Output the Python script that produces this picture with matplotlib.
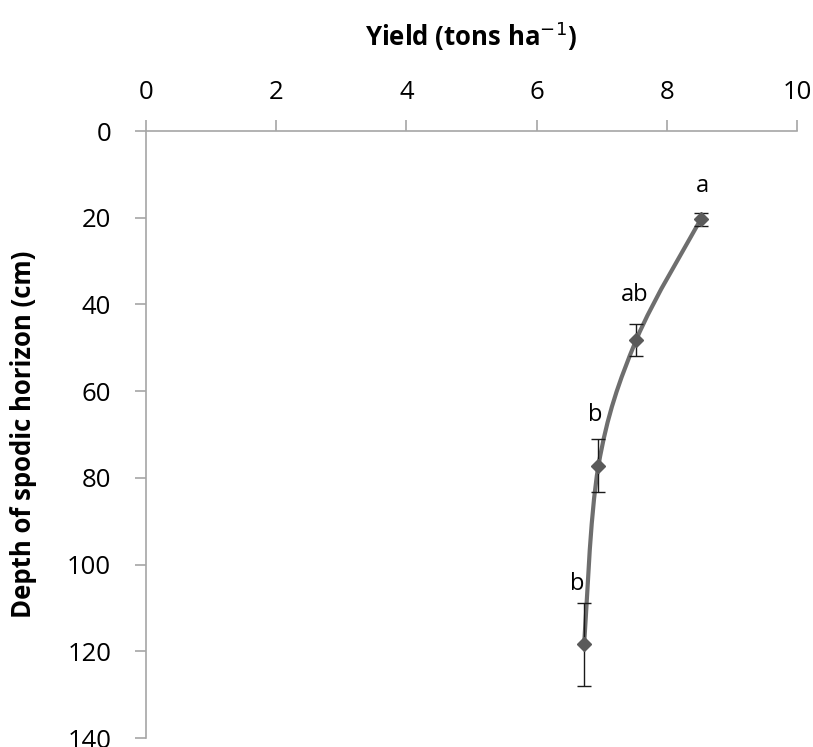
import matplotlib

matplotlib.use("Agg")

import matplotlib.pyplot as plt
import numpy as np
from matplotlib.path import Path
from matplotlib.patches import PathPatch

# values
yield_t = [8.52, 7.53, 6.95, 6.73]
depth_cm = [20.4, 48.2, 77.2, 118.4]
depth_err = [1.55, 3.8, 6.1, 9.6]
letters = ["a", "ab", "b", "b"]

LINE_GREY = "#6e6e6e"
AXIS_GREY = "#a6a6a6"

plt.rcParams["font.family"] = ["Open Sans", "DejaVu Sans"]

fig = plt.figure(figsize=(8.13, 7.47), dpi=100)
ax = fig.add_axes([0.1796, 0.012, 0.8007, 0.8126])

# smoothed line (Excel style), drawn as cubic bezier through the points
pts = np.column_stack([yield_t, depth_cm])
verts = [tuple(pts[0])]
codes = [Path.MOVETO]
n = len(pts)
t = 1 / 6
for i in range(n - 1):
    p0 = pts[i - 1] if i > 0 else pts[i]
    p1 = pts[i]
    p2 = pts[i + 1]
    p3 = pts[i + 2] if i + 2 < n else pts[i + 1]
    c1 = p1 + (p2 - p0) * t
    c2 = p2 - (p3 - p1) * t
    verts += [tuple(c1), tuple(c2), tuple(p2)]
    codes += [Path.CURVE4] * 3
ax.add_patch(PathPatch(Path(verts, codes), facecolor="none",
                       edgecolor=LINE_GREY, linewidth=3, zorder=2))

ax.errorbar(yield_t, depth_cm, yerr=depth_err, fmt="none", ecolor="#1a1a1a",
            elinewidth=1, capsize=5, capthick=1, zorder=3)
ax.plot(yield_t, depth_cm, linestyle="none", marker="D", markersize=7,
        color="#5a5a5a", zorder=4)

offsets = [(0.03, -7.7), (-0.03, -10.4), (-0.05, -11.7), (-0.1, -13.9)]
for x, y, lab, (dx, dy) in zip(yield_t, depth_cm, letters, offsets):
    ax.text(x + dx, y + dy, lab, fontsize=17, ha="center", va="center")

ax.set_xlim(0, 10)
ax.set_ylim(140, 0)
ax.set_xticks(np.arange(0, 11, 2))
ax.set_yticks(np.arange(0, 141, 20))
ax.xaxis.tick_top()
ax.xaxis.set_label_position("top")

for side in ["right", "bottom"]:
    ax.spines[side].set_visible(False)
for side in ["top", "left"]:
    ax.spines[side].set_color(AXIS_GREY)
    ax.spines[side].set_linewidth(1.2)

ax.tick_params(axis="both", direction="out", length=8, width=1.2,
               color=AXIS_GREY, labelsize=18.5)
ax.tick_params(axis="x", pad=11)
ax.tick_params(axis="y", pad=17)

ax.set_xlabel("Yield (tons ha$^{-1}$)", fontsize=18.5, fontweight="bold",
              labelpad=24)
ax.set_ylabel("Depth of spodic horizon (cm)", fontsize=18.5, fontweight="bold",
              labelpad=22)

fig.savefig("out.png", dpi=100, facecolor="white")
